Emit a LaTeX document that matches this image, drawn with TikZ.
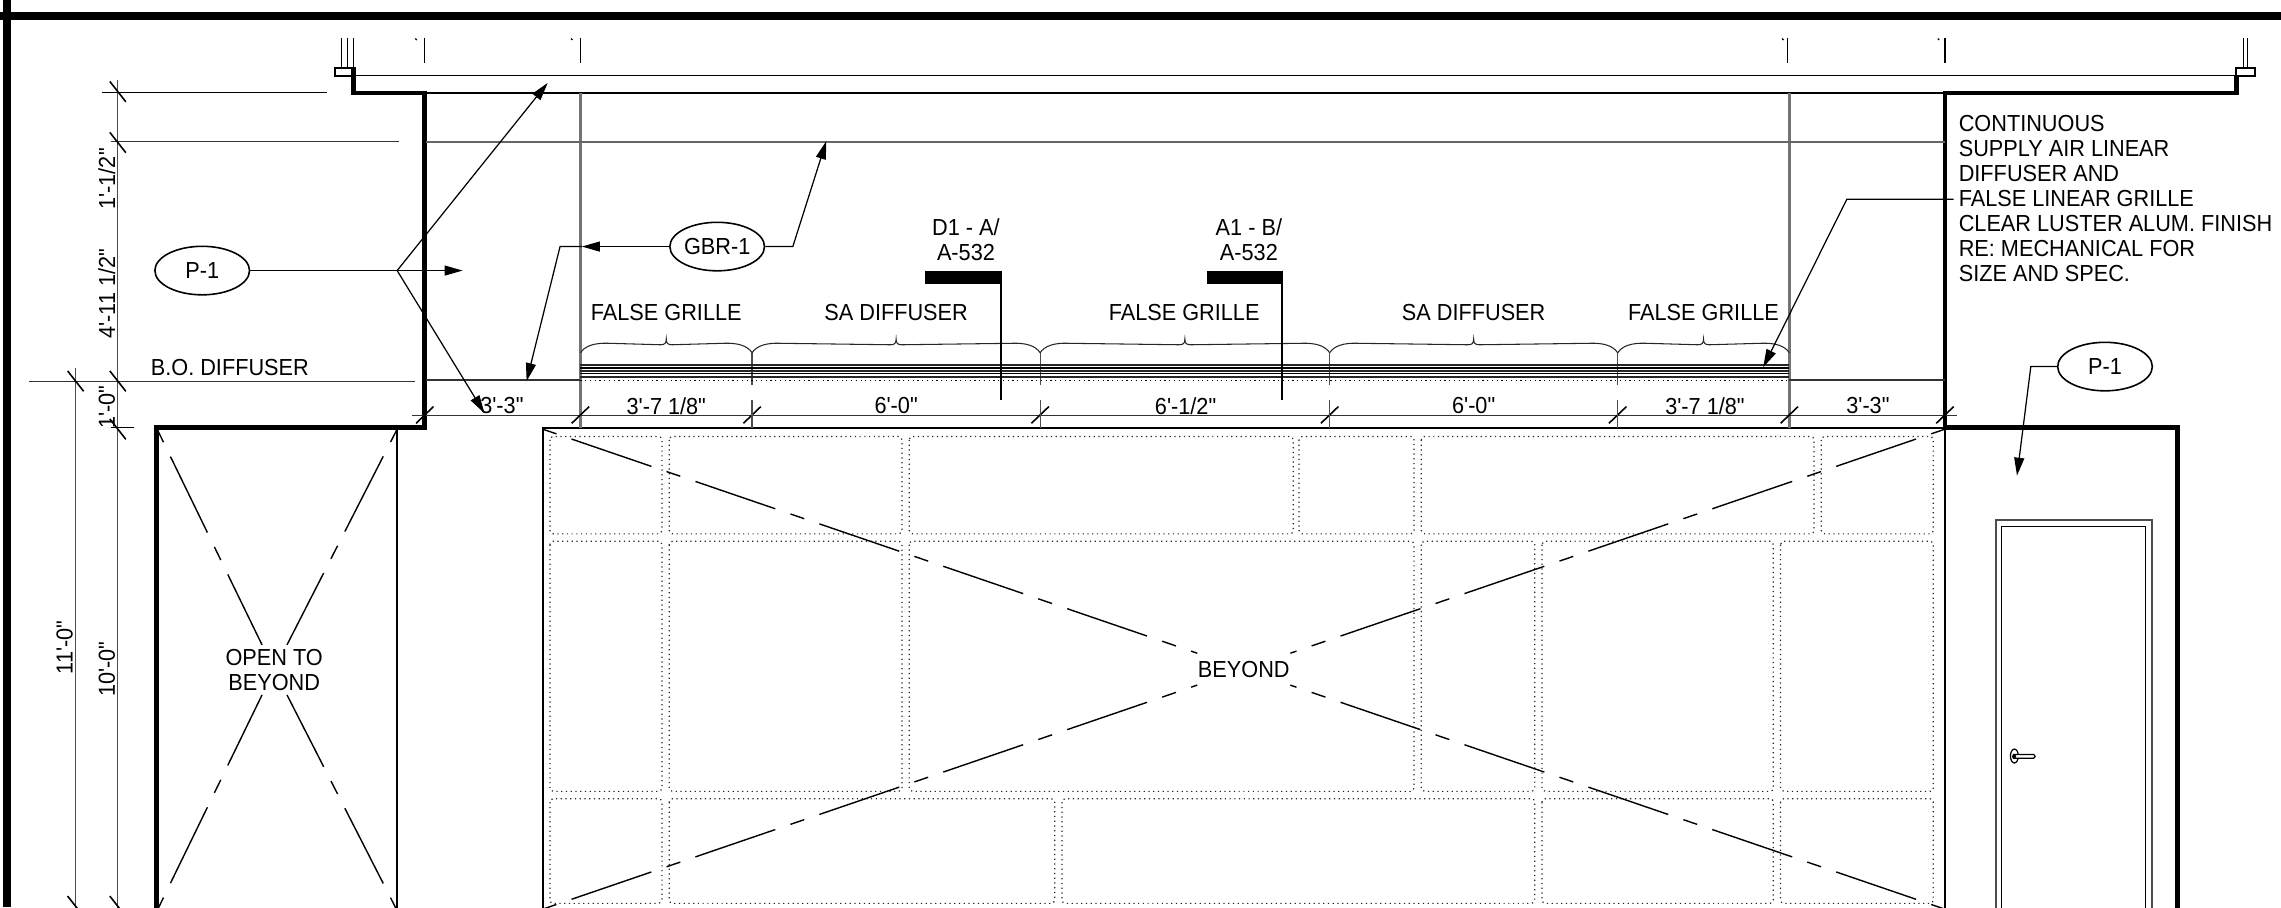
\documentclass[tikz,border=0pt]{standalone}
\usepackage{fontspec}
\usepackage{tikz}
\usetikzlibrary{arrows.meta,shapes.geometric}
\newfontfamily\planfont[FakeStretch=0.935]{Liberation Sans}

\tikzset{
  wall/.style={line width=1.35pt,line cap=butt,line join=miter},
  frameline/.style={line width=2.3pt},
  thinline/.style={line width=0.35pt},
  midline/.style={line width=0.6pt},
  greyline/.style={line width=0.7pt,black!55},
  panel/.style={line width=0.35pt,black!85,densely dotted,rounded corners=1pt},
  slash/.style={line width=0.45pt},
  leader/.style={line width=0.35pt,-{Triangle[length=0.18cm,width=0.1cm]}},
  halfcross/.style={line width=0.4pt,dash pattern=on 0.1455cm off 0.16cm on 0.8437cm off 0.16cm},
  bracket/.style={line width=0.3pt,black!85},
  tag/.style={draw,ellipse,line width=0.45pt,minimum width=0.946cm,minimum height=0.485cm,inner sep=0pt},
  lbl/.style={inner sep=0pt,align=center}
}

\newcommand{\curly}[2]{
  \draw [bracket] (#1,242.5) .. controls ({#1+3},238) and ({#1+9},235.5) .. ({#1+20},236)
    -- ({(#1+#2)/2-4},237) .. controls ({(#1+#2)/2-1},237) and ({(#1+#2)/2},236) .. ({(#1+#2)/2},233)
    .. controls ({(#1+#2)/2},236) and ({(#1+#2)/2+1},237) .. ({(#1+#2)/2+4},237)
    -- ({#2-20},236) .. controls ({#2-9},235.5) and ({#2-3},238) .. (#2,242.5);
}

\begin{document}
\begin{tikzpicture}[x=0.014547cm,y=-0.014547cm,every node/.style={font=\planfont\fontsize{6.6}{7.15}\selectfont}]
      \useasboundingbox (0,0) rectangle (1568,623.5);
      \clip (0,0) rectangle (1568,623.5);

      \draw [frameline] (0,11) -- (1568,11);
      \draw [frameline] (4.5,0) -- (4.5,623.5);

      \draw [thinline] (243,52) -- (1537,52);
      \draw [midline]  (292,64) -- (1337,64);
      \draw [wall]     (243,46) -- (243,64) -- (292,64) -- (292,294) -- (107.5,294) -- (107.5,630);
      \draw [wall]     (1537.5,52) -- (1537.5,64) -- (1337,64) -- (1337,294) -- (1497,294) -- (1497,630);
      \draw [midline]  (273,294) -- (273,630);
      \draw [midline]  (373,630) -- (373,294) -- (1337,294);
      \draw [midline]  (1337,294) -- (1337,630);

      \draw [midline] (230,46.5) rectangle (243,52.5);
      \draw [midline] (1537,46.5) rectangle (1550,52.5);
      \draw [thinline] (235,26) -- (235,46) (239,26) -- (239,46) (243,26) -- (243,46);
      \draw [thinline] (1542,26) -- (1542,46) (1545,26) -- (1545,46);
      \draw [thinline] (292,26) -- (292,43) (399,26) -- (399,43) (1229,26) -- (1229,43) (1337,26) -- (1337,43);
      \draw [thinline] (285.5,26.5) -- (286.5,27.5) (392.5,26.5) -- (393.5,27.5) (1225,26.5) -- (1226,27.5) (1332,26.5) -- (1333,27.5);

      \draw [greyline] (399,64) -- (399,294);
      \draw [greyline] (1230,64) -- (1230,294);
      \draw [midline,black!60]  (293,97.5) -- (1337,97.5);
      \draw [thinline] (70,63.5) -- (225,63.5);
      \draw [thinline,black!80] (76,97.5) -- (274,97.5);
      \draw [thinline,black!80] (20,262) -- (285,262);
      \draw [midline,black!80]  (293,261.5) -- (399,261.5);
      \draw [midline,black!80]  (1230,261.5) -- (1337,261.5);
      \draw [thinline,black!70] (81,55) -- (81,630);
      \draw [thinline,black!70] (52,253) -- (52,630);
      \draw [thinline,black!80] (283,285.5) -- (1345,285.5);
      \draw [thinline] (76,294) -- (92,294);

      \path [slash,draw]
      (75.5,56) -- ++(11,14)
      (75.5,91) -- ++(11,14)
      (75.5,255) -- ++(11,14)
      (75.5,288) -- ++(11,14)
      (46.5,255) -- ++(11,14)
      (75.5,616) -- ++(11,14)
      (46.5,616) -- ++(11,14)
      (286,291) -- ++(12,-11.5)
      (393,291) -- ++(12,-11.5)
      (511,291) -- ++(12,-11.5)
      (709,291) -- ++(12,-11.5)
      (908,291) -- ++(12,-11.5)
      (1106,291) -- ++(12,-11.5)
      (1224,291) -- ++(12,-11.5)
      (1331,291) -- ++(12,-11.5);

      \draw [thinline,black!70] (517,243) -- (517,265) (517,275) -- (517,294);
      \draw [thinline,black!70] (715,243) -- (715,265) (715,275) -- (715,294);
      \draw [thinline,black!70] (914,243) -- (914,265) (914,275) -- (914,294);
      \draw [thinline,black!70] (1112,243) -- (1112,265) (1112,275) -- (1112,294);

      \draw [midline,black!85] (399,251) -- (1230,251);
      \draw [thinline] (399,253) -- (1230,253);
      \draw [midline,black!85] (399,255) -- (1230,255);
      \draw [thinline] (399,257) -- (1230,257);
      \draw [midline,black!85] (399,259) -- (1230,259);
      \draw [thinline,densely dotted] (399,261.5) -- (1230,261.5);

      \curly{399}{517}
      \curly{517}{715}
      \curly{715}{914}
      \curly{914}{1112}
      \curly{1112}{1230}

      \path [panel,draw]
      (378,300) rectangle (455,367)
      (460,300) rectangle (620,367)
      (625,300) rectangle (889,367)
      (893,300) rectangle (972,367)
      (977,300) rectangle (1247,367)
      (1252,300) rectangle (1329,367)
      (378,372) rectangle (455,544)
      (460,372) rectangle (620,544)
      (625,372) rectangle (972,544)
      (977,372) rectangle (1055,544)
      (1060,372) rectangle (1219,544)
      (1224,372) rectangle (1329,544)
      (378,549) rectangle (455,621)
      (460,549) rectangle (725,621)
      (730,549) rectangle (1055,621)
      (1060,549) rectangle (1219,621)
      (1224,549) rectangle (1329,621);

      \node [lbl,fill=white,inner sep=2pt] (beyond) at (855,460) {BEYOND};
      \node [lbl,fill=white,inner sep=1pt] (opening) at (188.5,460.5) {OPEN TO\\BEYOND};

      \coordinate (bigtl) at (373,295);
      \coordinate (bigtr) at (1337,295);
      \coordinate (bigbl) at (373,625);
      \coordinate (bigbr) at (1337,625);
      \coordinate (opentl) at (108,295);
      \coordinate (opentr) at (273,295);
      \coordinate (openbl) at (108,626);
      \coordinate (openbr) at (273,626);
      \draw [halfcross] (bigtl) -- (beyond);
      \draw [halfcross] (bigtr) -- (beyond);
      \draw [halfcross] (bigbl) -- (beyond);
      \draw [halfcross] (bigbr) -- (beyond);
      \draw [halfcross] (opentl) -- (opening);
      \draw [halfcross] (opentr) -- (opening);
      \draw [halfcross] (openbl) -- (opening);
      \draw [halfcross] (openbr) -- (opening);

      \draw [line width=0.6pt,black!70] (1372,630) -- (1372,357.5) -- (1479,357.5) -- (1479,630);
      \draw [thinline] (1376,630) -- (1376,362) -- (1475,362) -- (1475,630);
      \draw [thinline] (1384.7,519.7) ellipse (2.7 and 4.8);
      \draw [thinline,fill=white] (1384,518.6) -- (1398,518.6) -- (1399,520) -- (1398,521.2) -- (1384,521.2) -- cycle;
      \fill (1384.5,520) circle (1.4);

      \fill (636,186) rectangle (688.6,195);
      \fill (829.6,186) rectangle (881.6,195);
      \draw [midline] (688,186) -- (688,275);
      \draw [midline] (881,186) -- (881,275);

      \node [lbl] (fg1)  at (458,215)    {FALSE GRILLE};
      \node [lbl] (sa1)  at (616,215)    {SA DIFFUSER};
      \node [lbl] (fg2)  at (814,215)    {FALSE GRILLE};
      \node [lbl] (sa2)  at (1013,215)   {SA DIFFUSER};
      \node [lbl] (fg3)  at (1171,215)   {FALSE GRILLE};
      \node [lbl] (dw1)  at (458,279)    {3'-7 1/8"};
      \node [lbl] (dw2)  at (616,279)    {6'-0"};
      \node [lbl] (dw3)  at (815,279)    {6'-1/2"};
      \node [lbl] (dw4)  at (1013,279)   {6'-0"};
      \node [lbl] (dw5)  at (1172,279)   {3'-7 1/8"};
      \node [lbl] (dw6)  at (1284,279)   {3'-3"};
      \node [lbl] (dw0)  at (345,279)    {3'-3"};
      \node [lbl] (bo)   at (158,252.5)  {B.O. DIFFUSER};
      \node [lbl] (secd) at (664,164.5)  {D1 - A/\\A-532};
      \node [lbl] (seca) at (858.5,164.5) {A1 - B/\\A-532};
      \node [lbl,rotate=90] (dh1) at (73.5,123)  {1'-1/2"};
      \node [lbl,rotate=90] (dh2) at (73.5,202)  {4'-11 1/2"};
      \node [lbl,rotate=90] (dh3) at (73.5,280)  {1'-0"};
      \node [lbl,rotate=90] (dh4) at (73.5,460)  {10'-0"};
      \node [lbl,rotate=90] (dh5) at (44.5,445)  {11'-0"};
      \node [inner sep=0pt,align=left,anchor=north west] (note) at (1346,78.5)
        {CONTINUOUS\\SUPPLY AIR LINEAR\\DIFFUSER AND\\FALSE LINEAR GRILLE\\CLEAR LUSTER ALUM. FINISH\\RE: MECHANICAL FOR\\SIZE AND SPEC.};

      \node [tag] (pone)  at (139,186)   {P-1};
      \node [tag] (gbr)   at (493,169.5) {GBR-1};
      \node [tag] (ptwo)  at (1447,252)  {P-1};

      \coordinate (pfork)   at (273,186);
      \coordinate (ptipa)   at (376.5,57);
      \coordinate (ptipb)   at (318,186);
      \coordinate (ptipc)   at (333,284);
      \coordinate (gleft)   at (400,169.5);
      \coordinate (gbend)   at (385,169.5);
      \coordinate (gtipa)   at (362,262);
      \coordinate (gright)  at (545,169.5);
      \coordinate (gtipb)   at (568,97);
      \coordinate (nstart)  at (1343,137);
      \coordinate (nbend)   at (1269.5,137);
      \coordinate (ntip)    at (1212,252.5);
      \coordinate (pbend)   at (1396,252);
      \coordinate (ptipd)   at (1386.5,327);

      \draw [thinline] (pone) -- (pfork);
      \draw [leader] (pfork) -- (ptipb);
      \draw [leader] (pfork) -- (ptipa);
      \draw [leader] (pfork) -- (ptipc);
      \draw [leader] (gbr) -- (gleft);
      \draw [leader] (gleft) -- (gbend) -- (gtipa);
      \draw [leader] (gbr) -- (gright) -- (gtipb);
      \draw [leader] (nstart) -- (nbend) -- (ntip);
      \draw [leader] (ptwo) -- (pbend) -- (ptipd);

    \end{tikzpicture}
\end{document}
